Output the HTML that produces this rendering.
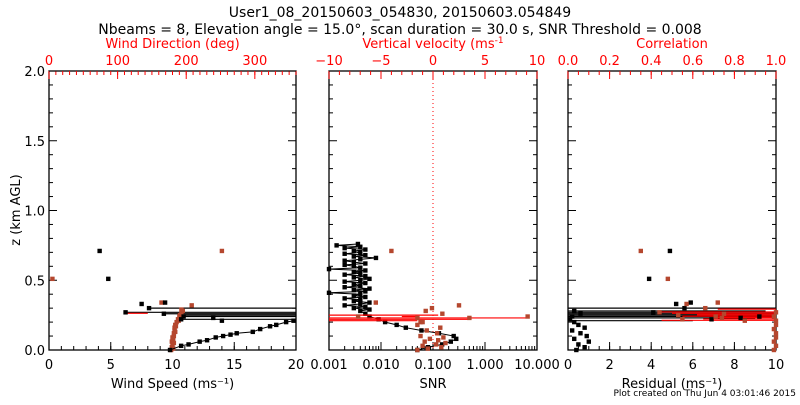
<!DOCTYPE html>
<html><head><meta charset="utf-8"><style>
body{margin:0;background:#fff;width:800px;height:400px;overflow:hidden}
svg{font-family:"DejaVu Sans","Liberation Sans",sans-serif}
</style></head><body>
<svg id="c" width="800" height="400" xmlns="http://www.w3.org/2000/svg">
<text x="400" y="17" text-anchor="middle" font-size="14">User1_08_20150603_054830, 20150603.054849</text>
<text x="400" y="34" text-anchor="middle" font-size="14">Nbeams = 8, Elevation angle = 15.0°, scan duration = 30.0 s, SNR Threshold = 0.008</text>
<text x="20" y="210" text-anchor="middle" font-size="13" transform="rotate(-90 20 210)">z (km AGL)</text>
<text x="796" y="396" text-anchor="end" font-size="9">Plot created on Thu Jun  4 03:01:46 2015</text>
</svg>
<script>
// ---- data ----
const zTicks=[0,0.5,1.0,1.5,2.0];
const speedZ=[0.0,0.03,0.04,0.06,0.07,0.09,0.10,0.11,0.12,0.13,0.15,0.17,0.18,0.20,0.21,0.71,0.51,0.33,0.30,0.34,0.27,0.26,0.24,0.23,0.22,0.21];
const speedVal=[9.8,10.7,11.3,12.2,12.8,13.5,14.1,14.7,15.2,16.5,17.1,17.9,18.4,19.2,19.8,4.1,4.8,7.5,8.1,9.4,6.2,9.3,10.9,13.3,10.7,14.0];
const dirZ=[0.0,0.02,0.04,0.06,0.08,0.10,0.12,0.14,0.16,0.18,0.20,0.22,0.24,0.26,0.28,0.51,0.71,0.34,0.32,0.29,0.01,0.05,0.09,0.13,0.17,0.21,0.25];
const dirVal=[178,179,180,179,181,182,182,183,183,184,186,188,190,193,195,5,252,164,208,193,181,182,180,184,185,189,191];
const speedLineZ=[0.30,0.27,0.26,0.25,0.24,0.22];
const speedLineStart=[8.1,6.2,9.3,10.5,10.9,10.7];
const snrZ=[0.0,0.02,0.04,0.06,0.08,0.10,0.12,0.14,0.16,0.18,0.20,0.22,0.24,0.26,0.28,0.29,0.30,0.31,0.32,0.33,0.34,0.35,0.36,0.37,0.38,0.39,0.40,0.41,0.42,0.43,0.44,0.45,0.46,0.47,0.48,0.49,0.50,0.51,0.52,0.53,0.54,0.55,0.56,0.57,0.58,0.59,0.60,0.61,0.62,0.63,0.64,0.65,0.66,0.67,0.68,0.69,0.70,0.71,0.72,0.73,0.74,0.75,0.76];
const snrVal=[0.05,0.08,0.15,0.22,0.28,0.25,0.13,0.06,0.03,0.02,0.012,0.009,0.006,0.005,0.004,0.006,0.003,0.005,0.002,0.004,0.006,0.003,0.004,0.002,0.005,0.003,0.004,0.001,0.005,0.003,0.006,0.002,0.004,0.003,0.005,0.002,0.004,0.006,0.003,0.005,0.002,0.004,0.003,0.005,0.001,0.004,0.003,0.002,0.005,0.003,0.002,0.004,0.008,0.003,0.005,0.002,0.004,0.003,0.005,0.002,0.004,0.0014,0.0036];
const wZ=[0.0,0.01,0.02,0.03,0.04,0.05,0.06,0.07,0.08,0.09,0.10,0.12,0.14,0.16,0.18,0.20,0.71,0.34,0.32,0.28,0.30,0.26,0.24,0.23,0.23,0.24,0.20];
const wVal=[-1.5,-0.5,0.8,-1.0,0.3,1.2,-0.8,0.5,-0.3,1.0,-1.2,0.4,-0.6,0.7,-1.5,-1.2,-4.0,-5.5,2.5,-0.7,-0.1,0.9,-7.2,-1.5,3.5,9.1,-1.0];
const wLineZ=[0.25,0.24,0.23,0.22,0.21];
const wLine1=[-10,-3,-10,-10,-10];
const wLine2=[0.5,-1.5,9.1,3.5,-1.5];
const resZ=[0.0,0.02,0.04,0.06,0.08,0.10,0.12,0.14,0.16,0.18,0.20,0.22,0.24,0.26,0.28,0.71,0.51,0.33,0.34,0.30,0.27,0.22,0.24,0.23];
const resVal=[0.4,0.8,0.5,1.0,0.3,0.9,0.6,0.2,0.8,0.5,0.3,0.1,0.2,0.6,0.3,4.9,3.9,5.2,5.9,5.6,4.1,6.9,9.2,8.3];
const corZ=[0.0,0.03,0.06,0.09,0.12,0.15,0.18,0.21,0.24,0.27,0.71,0.51,0.33,0.30,0.34,0.27,0.26,0.25,0.24,0.22,0.21,0.23];
const corVal=[0.99,1.0,0.99,1.0,1.0,0.99,1.0,1.0,0.99,1.0,0.35,0.48,0.57,0.66,0.72,0.44,0.75,0.53,0.71,0.55,0.85,0.74];
const resLineZ=[0.30,0.28,0.27,0.26,0.25,0.24,0.23,0.21];
const resLine2=[10,9.5,10,10,9.8,10,9.0,6.0];
const corLineZ=[0.30,0.28,0.27,0.26,0.25,0.24,0.23,0.22];
const corLine1=[0.72,0.44,0.50,0.62,0.55,0.70,0.65,0.45];

// ---- setup ----
const S="http://www.w3.org/2000/svg", svg=document.getElementById('c');
const RED="#ff0000", BR="#b5472e";
const TOP=71,BOT=350;
const zY=z=>BOT-(z/2)*(BOT-TOP);
function el(t,a,p){const e=document.createElementNS(S,t);for(const k in a)e.setAttribute(k,a[k]);(p||svg).appendChild(e);return e;}
function txt(x,y,s,col,anchor,size,name){const t=el('text',{x:x,y:y,fill:col,'text-anchor':anchor,'font-size':size});t.textContent=s;

return t;}
function panel(name,L,R,botFn,botMaj,botMin,botFmt,topFn,topMaj,topMin,topFmt,botTitle,topTitle,supTop){
  const g=el('g',{});
  
  
  el('rect',{x:L,y:TOP,width:R-L,height:BOT-TOP,fill:'none',stroke:'#000','stroke-width':1.3},g);
  botMin.forEach(v=>{const x=botFn(v);el('line',{x1:x,x2:x,y1:BOT,y2:BOT-4,stroke:'#000'},g);});
  botMaj.forEach((v,i)=>{const x=botFn(v);el('line',{x1:x,x2:x,y1:BOT,y2:BOT-8,stroke:'#000'},g);txt(x,BOT+19,botFmt[i],'#000','middle',13,'x-tick-label');});
  topMin.forEach(v=>{const x=topFn(v);el('line',{x1:x,x2:x,y1:TOP,y2:TOP+4,stroke:RED},g);});
  topMaj.forEach((v,i)=>{const x=topFn(v);el('line',{x1:x,x2:x,y1:TOP,y2:TOP+8,stroke:RED},g);txt(x,TOP-6,topFmt[i],RED,'middle',13,'top-tick-label');});
  for(let z=0;z<=2.001;z+=0.1){const y=zY(z);const big=Math.abs(z*2-Math.round(z*2))<1e-6;const l=big?8:4;
    el('line',{x1:L,x2:L+l,y1:y,y2:y,stroke:'#000'},g);el('line',{x1:R,x2:R-l,y1:y,y2:y,stroke:'#000'},g);}
  const bt=txt((L+R)/2,BOT+38,botTitle,'#000','middle',13,'x-axis-title');
  const tt=txt((L+R)/2,TOP-23,topTitle,RED,'middle',13,'top-axis-title');
  if(supTop){const s=el('tspan',{dy:-5,'font-size':9});s.textContent='-1';tt.appendChild(s);}
  return g;
}
function pt(x,y,c,name){const p=el('rect',{x:x-2.2,y:y-2.2,width:4.4,height:4.4,fill:c});

}
function seg(x1,x2,y,c,name){const l=el('line',{x1:x1,x2:x2,y1:y,y2:y,stroke:c,'stroke-width':1.2});

}
function rng(a,b,s){const r=[];for(let v=a;v<=b+1e-9;v+=s)r.push(+v.toFixed(6));return r;}

// y labels
zTicks.forEach(z=>txt(45,zY(z)+5,z.toFixed(1),'#000','end',13,'y-tick-label'));

// Panel 1
const p1L=49,p1R=296;
const sX=v=>p1L+v/20*(p1R-p1L), dX=v=>p1L+v/360*(p1R-p1L);
panel('wind-panel',p1L,p1R,sX,[0,5,10,15,20],rng(0,20,1),['0','5','10','15','20'],dX,[0,100,200,300],rng(0,360,10),['0','100','200','300'],'Wind Speed (ms⁻¹)','Wind Direction (deg)',false);
speedLineZ.forEach((z,i)=>seg(sX(speedLineStart[i]),p1R,zY(z),'#000','speed-error-line'));
seg(sX(6.2),sX(8.0),zY(0.27)+1,RED,'direction-error-line');
dirZ.forEach((z,i)=>pt(dX(dirVal[i]),zY(z),BR,'direction-point'));
const poly1=[];for(let i=0;i<15;i++)poly1.push(sX(speedVal[i])+','+zY(speedZ[i]));
el('polyline',{points:poly1.join(' '),fill:'none',stroke:'#000'});
speedZ.forEach((z,i)=>pt(sX(speedVal[i]),zY(z),'#000','speed-point'));

// Panel 2
const p2L=329,p2R=537;
const nX=v=>p2L+(Math.log10(v)+3)/4*(p2R-p2L), wX=v=>p2L+(v+10)/20*(p2R-p2L);
const logMin=[];[0.001,0.01,0.1,1].forEach(d=>{for(let k=1;k<10;k++)logMin.push(d*k);});logMin.push(10);
panel('snr-panel',p2L,p2R,nX,[0.001,0.01,0.1,1,10],logMin,['0.001','0.010','0.100','1.000','10.000'],wX,[-10,-5,0,5,10],rng(-10,10,1),['−10','−5','0','5','10'],'SNR','Vertical velocity (ms',true);
el('line',{x1:wX(0),x2:wX(0),y1:TOP,y2:BOT,stroke:RED,'stroke-dasharray':'1,3'});
el('polyline',{points:snrZ.map((z,i)=>nX(snrVal[i])+','+zY(z)).join(' '),fill:'none',stroke:'#000'});
snrZ.forEach((z,i)=>pt(nX(snrVal[i]),zY(z),'#000','snr-point'));
wLineZ.forEach((z,i)=>seg(wX(wLine1[i]),wX(wLine2[i]),zY(z),RED,'velocity-error-line'));
wZ.forEach((z,i)=>pt(wX(wVal[i]),zY(z),BR,'velocity-point'));

// Panel 3
const p3L=568,p3R=776;
const rX=v=>p3L+v/10*(p3R-p3L), cX=v=>p3L+v*(p3R-p3L);
panel('residual-panel',p3L,p3R,rX,[0,2,4,6,8,10],rng(0,10,0.5),['0','2','4','6','8','10'],cX,[0,0.2,0.4,0.6,0.8,1],rng(0,1,0.05),['0.0','0.2','0.4','0.6','0.8','1.0'],'Residual (ms⁻¹)','Correlation',false);
resLineZ.forEach((z,i)=>seg(p3L,rX(resLine2[i]),zY(z),'#000','residual-line'));
corLineZ.forEach((z,i)=>seg(cX(corLine1[i]),p3R,zY(z)+1,RED,'correlation-line'));
resZ.forEach((z,i)=>pt(rX(resVal[i]),zY(z),'#000','residual-point'));
corZ.forEach((z,i)=>pt(cX(corVal[i]),zY(z),BR,'correlation-point'));
</script>
</body></html>
